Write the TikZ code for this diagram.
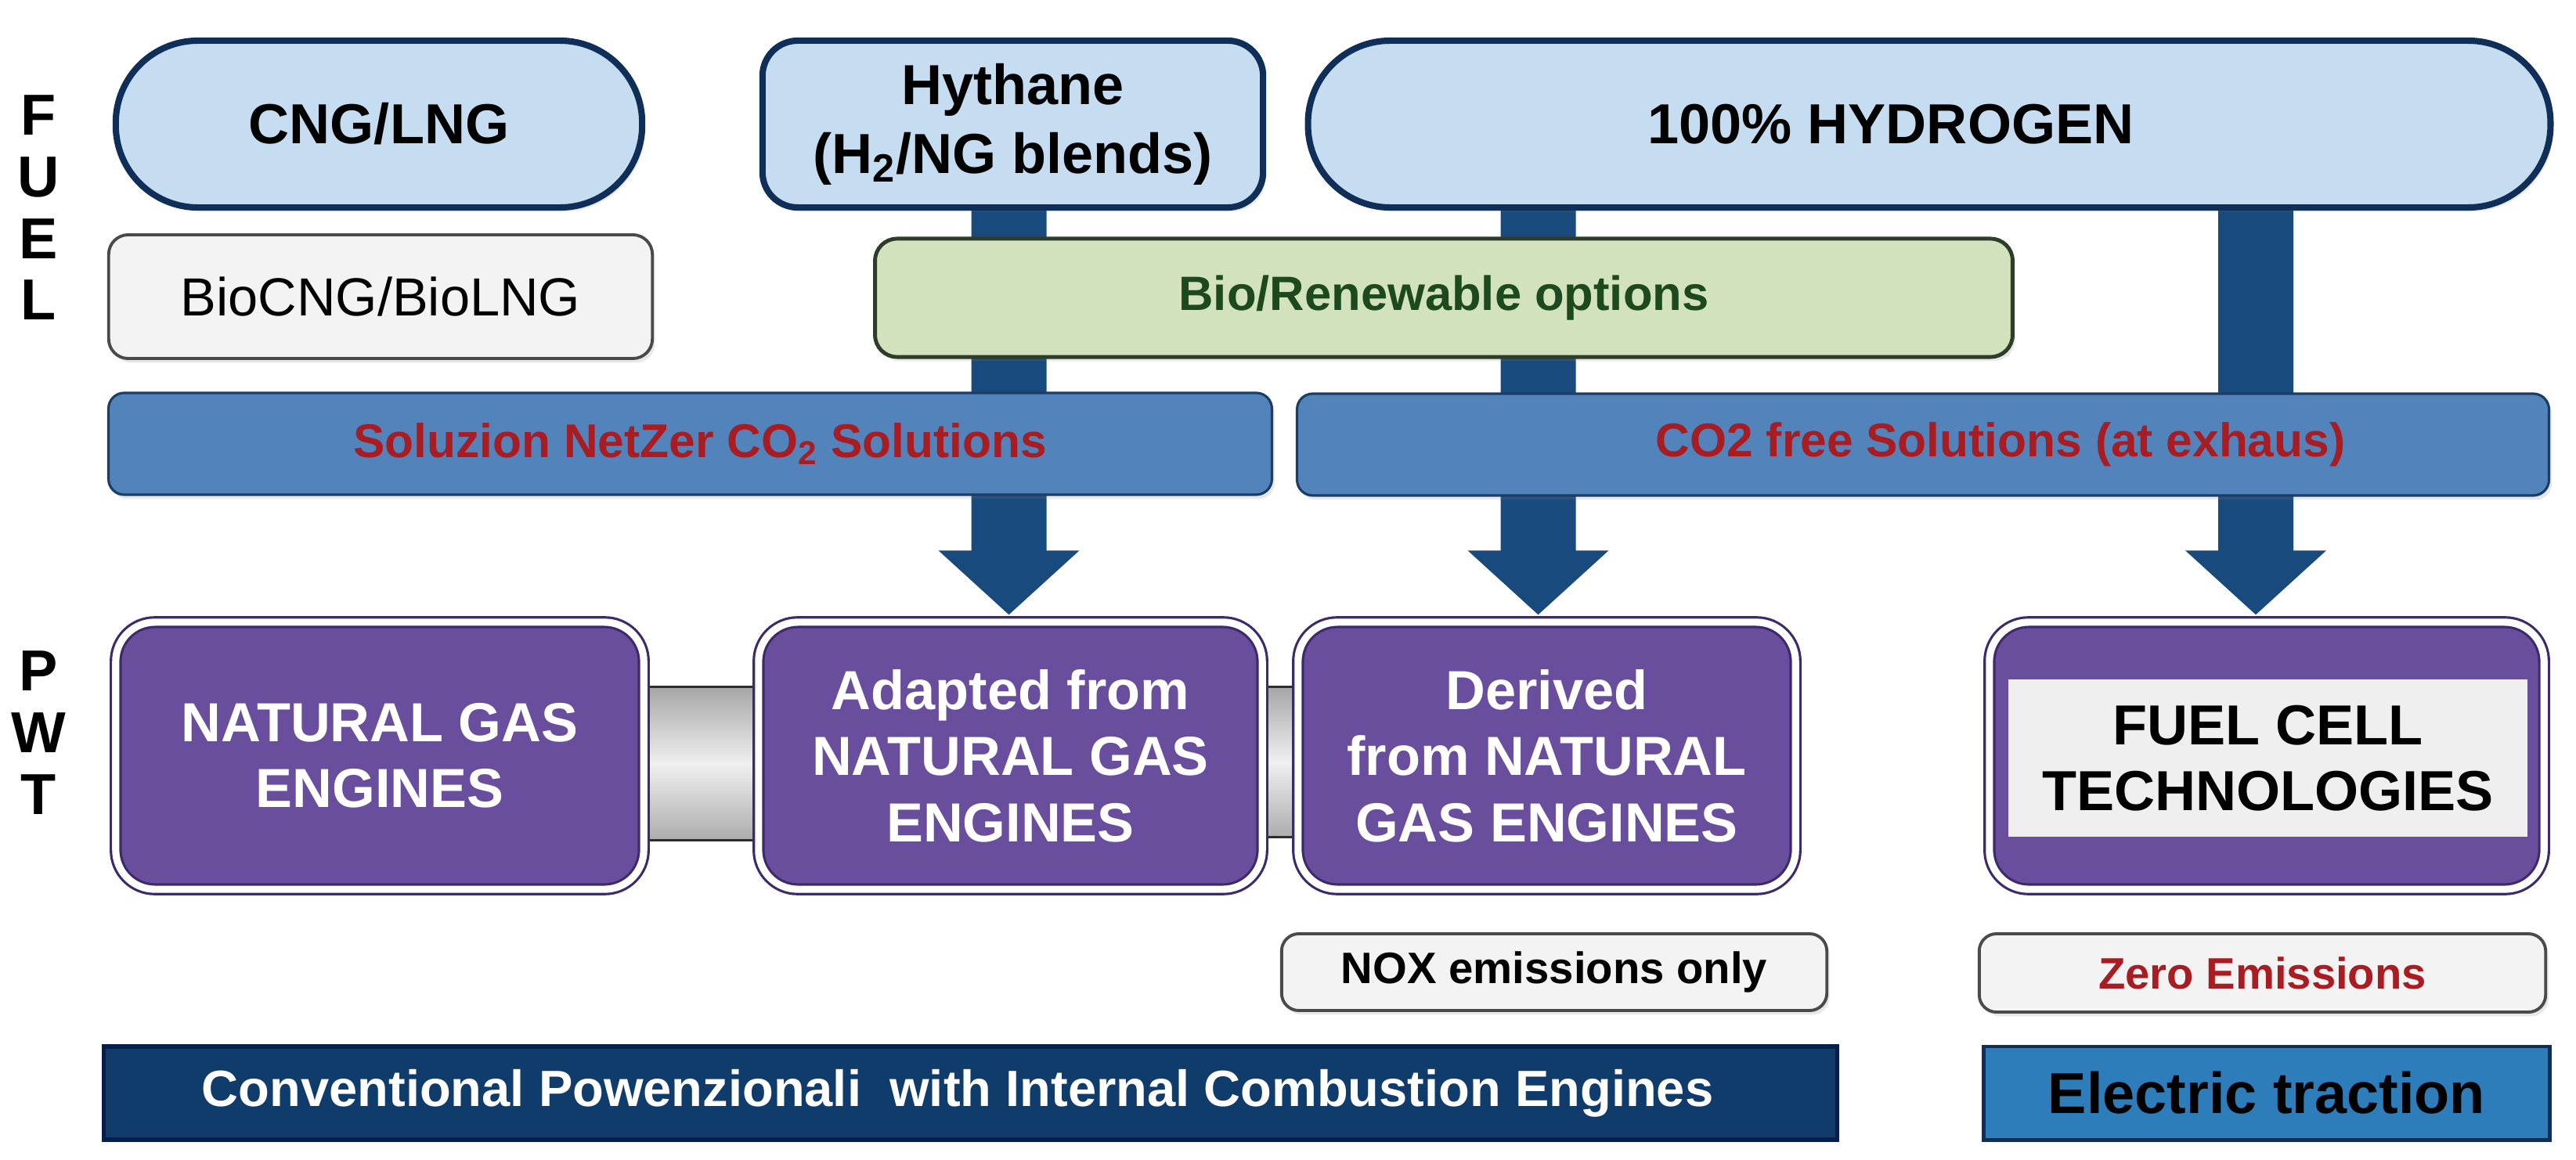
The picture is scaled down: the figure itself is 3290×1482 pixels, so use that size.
\documentclass[tikz,border=0pt]{standalone}
\usepackage{fontspec}
\setmainfont{Liberation Sans}
\usetikzlibrary{calc,shadows}
\pgfdeclarelayer{background}
\pgfdeclarelayer{canvas}
\pgfsetlayers{canvas,background,main}
\definecolor{fuelfill}{HTML}{C6DCF0}
\definecolor{navy}{HTML}{102F58}
\definecolor{arrowc}{HTML}{184A7E}
\definecolor{barfill}{HTML}{5283BA}
\definecolor{barline}{HTML}{1B3D66}
\definecolor{greenfill}{HTML}{D2E2BD}
\definecolor{greenline}{HTML}{2E3D2A}
\definecolor{greentext}{HTML}{1C4A1E}
\definecolor{redtext}{HTML}{A81C22}
\definecolor{pfill}{HTML}{6A4E9E}
\definecolor{pline}{HTML}{3C2A6A}
\definecolor{notefill}{HTML}{F3F3F3}
\definecolor{noteline}{HTML}{4A4A4A}
\definecolor{convfill}{HTML}{103C6C}
\definecolor{convline}{HTML}{061F48}
\definecolor{elecfill}{HTML}{2C7DB9}
\definecolor{bandfill}{HTML}{EFEFEF}
\newcommand\fatarrow[3]{%
  \fill[arrowc]
    ($(#2.north |- #1.center)+(#3-48,0)$) --
    ($(#2.north)+(#3-48,-90)$) --
    ($(#2.north)+(#3-90,-90)$) --
    ($(#2.north)+(#3,-8)$) --
    ($(#2.north)+(#3+90,-90)$) --
    ($(#2.north)+(#3+48,-90)$) --
    ($(#2.north |- #1.center)+(#3+48,0)$) -- cycle;}
\begin{document}
\begin{tikzpicture}[x=0.01cm, y=-0.01cm,
  myshadow/.style={drop shadow={opacity=0.18, shadow xshift=1pt, shadow yshift=-1.5pt}},
  fuelbox/.style={draw=navy, line width=2.3pt, fill=fuelfill, align=center, inner sep=0pt,
    font=\fontsize{20.5}{25}\selectfont\bfseries, myshadow},
  biobox/.style={draw=noteline, line width=1.1pt, fill=notefill, rounded corners=0.25cm,
    inner sep=0pt, font=\fontsize{19.5}{23}\selectfont, myshadow},
  greenbox/.style={draw=greenline, line width=1.4pt, fill=greenfill, rounded corners=0.28cm,
    inner sep=0pt, text=greentext, font=\fontsize{17.5}{21}\selectfont\bfseries, myshadow},
  solbar/.style={draw=barline, line width=0.9pt, fill=barfill, rounded corners=0.2cm,
    inner sep=0pt, text=redtext, font=\fontsize{17.2}{21}\selectfont\bfseries, myshadow,
    minimum height=1.30cm},
  pbox/.style={draw=pline, line width=0.9pt, double=white, double distance=2.6pt,
    fill=pfill, rounded corners=0.5cm, inner sep=0pt, align=center, text=white,
    font=\fontsize{20}{24}\selectfont\bfseries, minimum height=3.41cm, myshadow},
  fcband/.style={fill=bandfill, inner sep=0pt, align=center, text=black,
    font=\fontsize{20.5}{24}\selectfont\bfseries},
  notebox/.style={draw=noteline, line width=1.1pt, fill=notefill, rounded corners=0.22cm,
    inner sep=0pt, font=\fontsize{16}{19}\selectfont\bfseries, myshadow},
  convbar/.style={draw=convline, line width=1.5pt, fill=convfill, inner sep=0pt,
    text=white, font=\fontsize{18.5}{22}\selectfont\bfseries, minimum height=1.19cm},
  elecbar/.style={draw=navy, line width=1.4pt, fill=elecfill, inner sep=0pt,
    text=black, font=\fontsize{21}{24}\selectfont\bfseries, minimum height=1.19cm},
  sidelabel/.style={align=center, inner sep=0pt, anchor=north,
    font=\fontsize{21}{22.4}\selectfont\bfseries},
  grayconn/.style={draw=gray!35!black, line width=1pt, top color=gray!70,
    bottom color=gray!65, middle color=gray!12}
]
\begin{pgfonlayer}{canvas}
  \fill[white] (0,0) rectangle (3290,1482);
\end{pgfonlayer}
\useasboundingbox (0,0) rectangle (3290,1482);

% side labels
\node[sidelabel] (fuel) at (49,121) {F\\U\\E\\L};
\node[sidelabel] (pwt) at (49,831) {P\\W\\T};

% fuel row
\node[fuelbox, minimum width=6.72cm, minimum height=2.13cm, rounded corners=1.05cm]
  (cng) at (484,158.5) {CNG/LNG};
\node[fuelbox, minimum width=6.39cm, minimum height=2.13cm, rounded corners=0.45cm]
  (hyth) at (1293.5,158.5) {Hythane\\(H\textsubscript{2}/NG blends)};
\node[fuelbox, minimum width=15.86cm, minimum height=2.13cm, rounded corners=1.05cm]
  (hyd) at (2464,158.5) {100\% HYDROGEN\hspace*{0.98cm}};

\node[biobox, minimum width=6.94cm, minimum height=1.58cm] (biocng) at (486,379) {BioCNG/BioLNG};
\node[greenbox, minimum width=14.52cm, minimum height=1.51cm] (bio) at (1844,380.5) {Bio/Renewable options};

\node[solbar, minimum width=14.85cm] (sol) at (881.5,567)
  {\hspace*{0.25cm}Soluzion NetZer CO\textsubscript{2} Solutions};
\node[solbar, minimum width=15.98cm] (cof) at (2456,568)
  {\hspace*{1.98cm}CO2 free Solutions (at exhaus)};

% powertrain row
\node[pbox, minimum width=6.74cm] (ng) at (485,965.5) {NATURAL GAS\\ENGINES};
\node[pbox, minimum width=6.43cm] (adp) at (1290.5,965.5) {Adapted from\\NATURAL GAS\\ENGINES};
\node[pbox, minimum width=6.35cm] (der) at (1975.5,965.5) {Derived\\from NATURAL\\GAS ENGINES};
\node[pbox, minimum width=7.08cm] (fc) at (2895,965.5) {};
\node[fcband, minimum width=6.63cm, minimum height=2.01cm] (fcb) at (2896.5,968.5) {FUEL CELL\\TECHNOLOGIES};

\node[notebox, minimum width=6.96cm, minimum height=0.98cm] (nox) at (1985,1242) {NOX emissions only};
\node[notebox, minimum width=7.23cm, minimum height=1.00cm, text=redtext] (zero) at (2889.5,1243) {Zero Emissions};

\node[convbar, minimum width=22.13cm] (conv) at (1239.5,1396.5)
  {Conventional Powenzionali\ \ with Internal Combustion Engines\hspace*{0.33cm}};
\node[elecbar, minimum width=7.22cm] (elec) at (2895,1396.5) {Electric traction};

% connectors behind the boxes
\begin{pgfonlayer}{background}
  \fatarrow{hyth}{adp}{-2}
  \fatarrow{hyd}{der}{-11}
  \fatarrow{hyd}{fc}{-14}
  \shadedraw[grayconn] ($(ng.east)+(0,-88)$) rectangle ($(adp.west)+(0,108)$);
  \shadedraw[grayconn] ($(adp.east)+(0,-88)$) rectangle ($(der.west)+(0,104)$);
\end{pgfonlayer}
\end{tikzpicture}
\end{document}
